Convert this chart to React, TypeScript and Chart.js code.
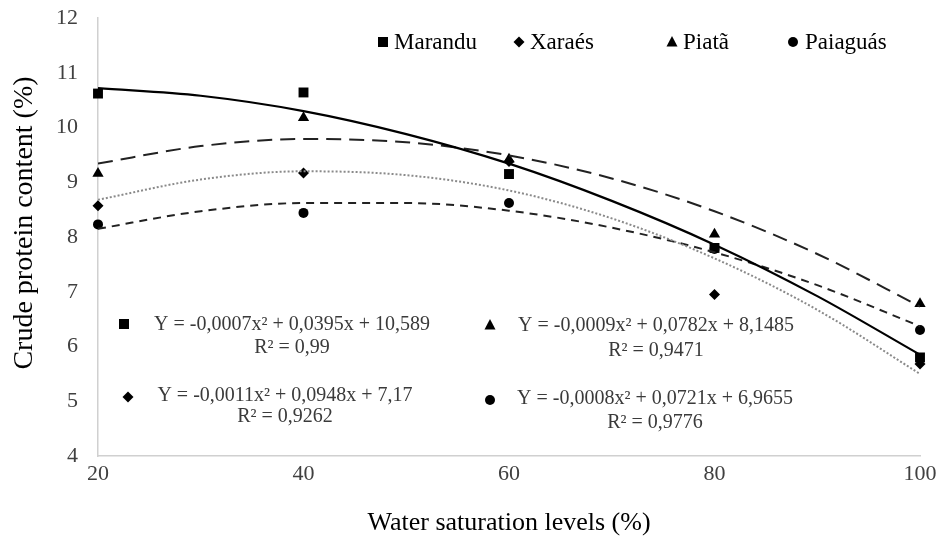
import React, { useEffect, useRef } from "react";
import { Chart, registerables } from "chart.js";

Chart.register(...registerables);

// Observed values
const levels = [20, 40, 60, 80, 100];
const marandu = [10.62, 10.64, 9.15, 7.8, 5.8];
const xaraes = [8.57, 9.17, 9.38, 6.95, 5.68];
const piata = [9.16, 10.18, 9.42, 8.05, 6.78];
const paiaguas = [8.23, 8.44, 8.62, 7.78, 6.3];

// Trend curves
const trendX = [20, 30, 40, 50, 60, 70, 80, 90, 100];
const maranduTrend = [10.72, 10.58, 10.3, 9.88, 9.34, 8.66, 7.86, 6.92, 5.85];
const piataTrend = [9.34, 9.66, 9.79, 9.73, 9.49, 9.07, 8.47, 7.69, 6.73];
const xaraesTrend = [8.68, 9.05, 9.2, 9.13, 8.85, 8.34, 7.61, 6.67, 5.5];
const paiaguasTrend = [8.15, 8.47, 8.62, 8.62, 8.48, 8.17, 7.72, 7.12, 6.37];

const seriesNames = ["Marandu", "Xaraés", "Piatã", "Paiaguás"];
const equations = [
  "Y = -0,0007x² + 0,0395x + 10,589",
  "Y = -0,0011x² + 0,0948x + 7,17",
  "Y = -0,0009x² + 0,0782x + 8,1485",
  "Y = -0,0008x² + 0,0721x + 6,9655",
];
const r2Labels = ["R² = 0,99", "R² = 0,9262", "R² = 0,9471", "R² = 0,9776"];

const xTitle = "Water saturation levels (%)";
const yTitle = "    Crude protein content (%)";

const SERIF = "'Liberation Serif', 'Times New Roman', serif";

function drawMarker(ctx: CanvasRenderingContext2D, style: string, x: number, y: number) {
  ctx.save();
  ctx.fillStyle = "#000";
  ctx.beginPath();
  if (style === "rect") {
    ctx.rect(x - 5, y - 5, 10, 10);
  } else if (style === "rectRot") {
    ctx.moveTo(x, y - 5.5);
    ctx.lineTo(x + 5.5, y);
    ctx.lineTo(x, y + 5.5);
    ctx.lineTo(x - 5.5, y);
    ctx.closePath();
  } else if (style === "triangle") {
    ctx.moveTo(x, y - 6);
    ctx.lineTo(x + 5.5, y + 4.5);
    ctx.lineTo(x - 5.5, y + 4.5);
    ctx.closePath();
  } else {
    ctx.arc(x, y, 5, 0, Math.PI * 2);
  }
  ctx.fill();
  ctx.restore();
}

const markerStyles = ["rect", "rectRot", "triangle", "circle"];

const annotationPlugin = {
  id: "annotations",
  afterDraw(chart: any) {
    const ctx: CanvasRenderingContext2D = chart.ctx;
    ctx.save();
    // legend
    const legendPos = [
      { mx: 383, tx: 394 },
      { mx: 519, tx: 530 },
      { mx: 672, tx: 683 },
      { mx: 793, tx: 805 },
    ];
    ctx.font = `23px ${SERIF}`;
    ctx.fillStyle = "#000";
    ctx.textBaseline = "middle";
    ctx.textAlign = "left";
    seriesNames.forEach((n, i) => {
      drawMarker(ctx, markerStyles[i], legendPos[i].mx, 42);
      ctx.fillStyle = "#000";
      ctx.fillText(n, legendPos[i].tx, 43);
    });
    // equations
    const eqPos = [
      { mx: 124, my: 324, cx: 292, ey: 325, ry: 348, si: 0 },
      { mx: 128, my: 397, cx: 285, ey: 396, ry: 417, si: 1 },
      { mx: 490, my: 325, cx: 656, ey: 326, ry: 351, si: 2 },
      { mx: 490, my: 400, cx: 655, ey: 399, ry: 423, si: 3 },
    ];
    eqPos.forEach((p, i) => {
      drawMarker(ctx, markerStyles[p.si], p.mx, p.my);
      ctx.font = `20px ${SERIF}`;
      ctx.fillStyle = "#3a3a3a";
      ctx.textAlign = "center";
      ctx.fillText(equations[i], p.cx, p.ey);
      ctx.fillText(r2Labels[i], p.cx, p.ry);
    });
    ctx.restore();
  },
};

export default function App() {
  const canvasRef = useRef<HTMLCanvasElement | null>(null);

  useEffect(() => {
    document.body.style.margin = "0";
    const canvas = canvasRef.current;
    if (!canvas) return;

    const pts = (ys: number[]) => levels.map((x, i) => ({ x, y: ys[i] }));
    const curve = (ys: number[]) => trendX.map((x, i) => ({ x, y: ys[i] }));

    const scatterBase = {
      type: "scatter" as const,
      showLine: false,
      backgroundColor: "#000",
      borderColor: "#000",
      borderWidth: 0,
      clip: false,
    };
    const lineBase = {
      type: "line" as const,
      pointRadius: 0,
      fill: false,
      tension: 0.4,
      cubicInterpolationMode: "monotone" as const,
      borderWidth: 2,
    };

    const chart = new Chart(canvas, {
      type: "scatter",
      data: {
        datasets: [
          { ...lineBase, label: "Marandu trend", data: curve(maranduTrend), borderColor: "#000", borderWidth: 2.2 },
          { ...lineBase, label: "Piatã trend", data: curve(piataTrend), borderColor: "#222", borderDash: [15, 8] },
          { ...lineBase, label: "Xaraés trend", data: curve(xaraesTrend), borderColor: "#8a8a8a", borderDash: [2, 2] },
          { ...lineBase, label: "Paiaguás trend", data: curve(paiaguasTrend), borderColor: "#222", borderDash: [8, 6] },
          { ...scatterBase, label: seriesNames[0], data: pts(marandu), pointStyle: "rect", pointRadius: 7 },
          { ...scatterBase, label: seriesNames[1], data: pts(xaraes), pointStyle: "rectRot", pointRadius: 5.5 },
          { ...scatterBase, label: seriesNames[2], data: pts(piata), pointStyle: "triangle", pointRadius: 6.5 },
          { ...scatterBase, label: seriesNames[3], data: pts(paiaguas), pointStyle: "circle", pointRadius: 5 },
        ] as any,
      },
      options: {
        animation: false,
        responsive: false,
        maintainAspectRatio: false,
        layout: { padding: { top: 18, right: 18, left: 0, bottom: 0 } },
        plugins: {
          legend: { display: false },
          tooltip: { enabled: false },
          title: { display: false },
        },
        scales: {
          x: {
            type: "linear",
            min: 20,
            max: 100,
            afterFit: (scale: any) => {
              scale.height = 86;
              scale.paddingRight = 0;
              scale.paddingLeft = 0;
            },
            ticks: {
              stepSize: 20,
              padding: 5,
              color: "#404040",
              font: { family: SERIF, size: 22 },
              autoSkip: false,
              maxRotation: 0,
            },
            grid: { display: false, drawTicks: false },
            border: { display: true, color: "#d0d0d0", width: 1.5 },
            title: {
              display: true,
              text: xTitle,
              color: "#000",
              font: { family: SERIF, size: 26 },
              padding: { top: 0, bottom: 3 },
            },
          },
          y: {
            type: "linear",
            min: 4,
            max: 12,
            afterFit: (scale: any) => {
              scale.width = 98;
              scale.paddingTop = 0;
              scale.paddingBottom = 0;
            },
            ticks: {
              stepSize: 1,
              padding: 20,
              color: "#404040",
              font: { family: SERIF, size: 22 },
            },
            grid: { display: false, drawTicks: false },
            border: { display: true, color: "#d0d0d0", width: 1.5 },
            title: {
              display: true,
              text: yTitle,
              color: "#000",
              font: { family: SERIF, size: 28 },
              padding: { top: 8, bottom: 0 },
            },
          },
        },
      },
      plugins: [annotationPlugin],
    });

    return () => chart.destroy();
  }, []);

  return (
    <div style={{ position: "fixed", left: 0, top: 0, width: 938, height: 542, background: "#fff" }}>
      <canvas ref={canvasRef} width={938} height={542} style={{ width: 938, height: 542 }} />
    </div>
  );
}
